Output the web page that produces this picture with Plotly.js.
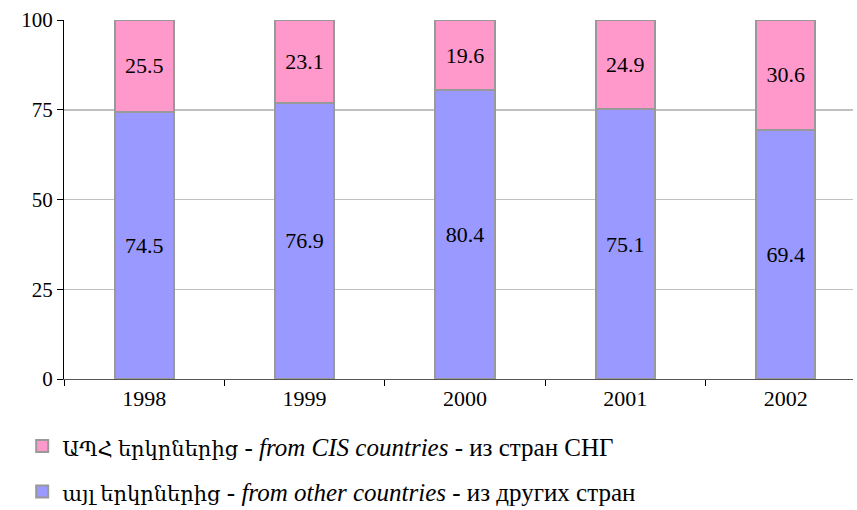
<!DOCTYPE html>
<html>
<head>
<meta charset="utf-8">
<script src="https://cdn.plot.ly/plotly-3.0.1.min.js"></script>
<style>html,body{margin:0;padding:0;background:#fff;}#chart{width:857px;height:510px;}</style>
</head>
<body>
<div id="chart"></div>
<script>
const years = ['1998', '1999', '2000', '2001', '2002'];
const otherCountries = [74.5, 76.9, 80.4, 75.1, 69.4];
const cisCountries = [25.5, 23.1, 19.6, 24.9, 30.6];
const nameCIS = '<span style="font-size:21px">ԱՊՀ երկրներից</span> - <i>from CIS countries</i> - из стран СНГ';
const nameOther = '<span style="font-size:21px">այլ երկրներից</span> - <i>from other countries</i> - из других стран';
const yTicks = [0, 25, 50, 75, 100];

const fontFam = 'Liberation Serif, Times New Roman, DejaVu Serif, serif';

const traces = [
  {
    type: 'bar', x: years, y: otherCountries, name: nameOther,
    legendgroup: 'b', legendrank: 2,
    marker: {color: '#9999FF', line: {color: '#999999', width: 2}},
    width: 0.37,
    text: otherCountries.map(v => v.toFixed(1)),
    textposition: 'inside', insidetextanchor: 'middle', textangle: 0,
    textfont: {family: fontFam, size: 22, color: '#000'},
    hoverinfo: 'none'
  },
  {
    type: 'bar', x: years, y: cisCountries, name: nameCIS,
    legendgroup: 'a', legendrank: 1,
    marker: {color: '#FF99CC', line: {color: '#999999', width: 2}},
    width: 0.37,
    text: cisCountries.map(v => v.toFixed(1)),
    textposition: 'inside', insidetextanchor: 'middle', textangle: 0,
    textfont: {family: fontFam, size: 22, color: '#000'},
    hoverinfo: 'none'
  }
];

const layout = {
  width: 857, height: 510,
  barmode: 'stack',
  margin: {l: 64, r: 4, t: 20, b: 131},
  paper_bgcolor: '#fff', plot_bgcolor: '#fff',
  font: {family: fontFam, size: 21, color: '#000'},
  xaxis: {
    type: 'category', range: [-0.5, 4.42],
    tickson: 'boundaries', ticks: 'outside', ticklen: 6, tickcolor: '#000',
    showline: true, linecolor: '#555', linewidth: 1,
    tickfont: {family: fontFam, size: 22, color: '#000'},
    showgrid: false, fixedrange: true
  },
  yaxis: {
    range: [0, 100], tickvals: yTicks, ticktext: yTicks.map(String),
    ticks: 'outside', ticklen: 6, tickcolor: '#000',
    showline: true, linecolor: '#000', linewidth: 1,
    showgrid: true, gridcolor: '#C0C0C0', gridwidth: 1.5,
    zeroline: false,
    tickfont: {family: fontFam, size: 21, color: '#000'},
    fixedrange: true
  },
  showlegend: true,
  legend: {
    xref: 'paper', yref: 'container',
    x: -0.053, xanchor: 'left', y: 0.17, yanchor: 'top',
    orientation: 'v', traceorder: 'grouped', tracegroupgap: 10,
    font: {family: fontFam, size: 25, color: '#000'},
    bgcolor: 'rgba(0,0,0,0)'
  }
};

Plotly.newPlot('chart', traces, layout, {displayModeBar: false, staticPlot: true});
</script>
</body>
</html>
